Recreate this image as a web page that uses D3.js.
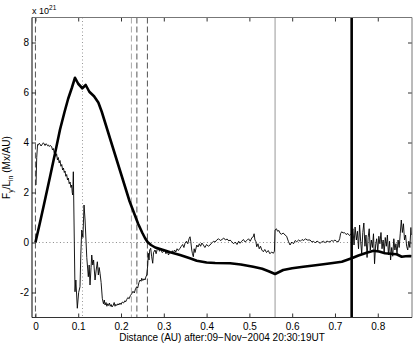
<!DOCTYPE html>
<html>
<head>
<meta charset="utf-8">
<script src="https://cdn.jsdelivr.net/npm/d3@7"></script>
<style>
  html, body { margin: 0; padding: 0; background: #fff; }
  svg { display: block; }
  text { font-family: "Liberation Sans", Arial, Helvetica, sans-serif; }
</style>
</head>
<body>
<div id="chart"></div>
<script>
// tick labels
const xTicks = [0, 0.1, 0.2, 0.3, 0.4, 0.5, 0.6, 0.7, 0.8];
const yTicks = [-2, 0, 2, 4, 6, 8];

// thick curve
const modelDist = [0, 0.010, 0.020, 0.034, 0.046, 0.0575, 0.0680, 0.0765, 0.0850, 0.0925,
  0.1000, 0.1096, 0.1175, 0.1260, 0.1370, 0.1470, 0.1550, 0.1800, 0.2000, 0.2200,
  0.2400, 0.2500, 0.2560, 0.2620, 0.2700, 0.2800, 0.2990, 0.3150, 0.3380, 0.3610,
  0.3770, 0.4000, 0.4200, 0.4550, 0.4800, 0.5090, 0.5300, 0.5450, 0.5600, 0.5790,
  0.6000, 0.6260, 0.6500, 0.6730, 0.6950, 0.7160, 0.7390, 0.7550, 0.7740, 0.7900,
  0.8030, 0.8170, 0.8300, 0.8440, 0.8560, 0.8650, 0.8750, 0.8790];
const modelVal = [0, 0.75, 1.52, 2.62, 3.58, 4.52, 5.22, 5.75, 6.18, 6.59,
  6.35, 6.17, 6.30, 6.03, 5.85, 5.60, 5.23, 3.85, 2.75, 1.65,
  0.75, 0.38, 0.18, 0.02, -0.10, -0.20, -0.30, -0.39, -0.50, -0.63,
  -0.73, -0.80, -0.82, -0.83, -0.88, -0.97, -1.05, -1.15, -1.26, -1.10,
  -1.03, -0.97, -0.92, -0.87, -0.82, -0.77, -0.63, -0.52, -0.41, -0.33,
  -0.36, -0.43, -0.45, -0.47, -0.57, -0.55, -0.54, -0.55];

// thin curve
const fluxDist = [0.0014, 0.0030, 0.0050, 0.0070, 0.0090, 0.0110, 0.0130, 0.0150, 0.0170, 0.0185,
  0.0205, 0.0225, 0.0245, 0.0264, 0.0285, 0.0305, 0.0325, 0.0345, 0.0365, 0.0380,
  0.0400, 0.0420, 0.0440, 0.0458, 0.0475, 0.0495, 0.0515, 0.0535, 0.0555, 0.0575,
  0.0595, 0.0615, 0.0635, 0.0655, 0.0675, 0.0692, 0.0710, 0.0730, 0.0750, 0.0769,
  0.0790, 0.0810, 0.0830, 0.0848, 0.0860, 0.0872, 0.0886, 0.0905, 0.0925, 0.0945,
  0.0979, 0.1010, 0.1042, 0.1060, 0.1082, 0.1110, 0.1136, 0.1160, 0.1200, 0.1236,
  0.1256, 0.1276, 0.1300, 0.1316, 0.1340, 0.1360, 0.1393, 0.1420, 0.1447, 0.1470,
  0.1490, 0.1510, 0.1535, 0.1563, 0.1590, 0.1610, 0.1627, 0.1650, 0.1670, 0.1690,
  0.1710, 0.1730, 0.1750, 0.1770, 0.1790, 0.1820, 0.1840, 0.1860, 0.1880, 0.1900,
  0.1930, 0.1950, 0.1977, 0.2000, 0.2030, 0.2060, 0.2090, 0.2110, 0.2134, 0.2160,
  0.2190, 0.2220, 0.2250, 0.2280, 0.2310, 0.2340, 0.2367, 0.2390, 0.2420, 0.2444,
  0.2470, 0.2484, 0.2510, 0.2540, 0.2561, 0.2580, 0.2601, 0.2625, 0.2638, 0.2655,
  0.2670, 0.2694, 0.2715, 0.2741, 0.2760, 0.2795, 0.2820, 0.2845, 0.2872, 0.2900,
  0.2930, 0.2960, 0.2989, 0.3020, 0.3050, 0.3080, 0.3110, 0.3140, 0.3170, 0.3200,
  0.3223, 0.3250, 0.3280, 0.3310, 0.3340, 0.3379, 0.3410, 0.3440, 0.3470, 0.3496,
  0.3530, 0.3560, 0.3590, 0.3613, 0.3630, 0.3653, 0.3670, 0.3690, 0.3710, 0.3730,
  0.3770, 0.3800, 0.3830, 0.3860, 0.3890, 0.3924, 0.3960, 0.4000, 0.4040, 0.4080,
  0.4120, 0.4160, 0.4200, 0.4237, 0.4280, 0.4320, 0.4360, 0.4400, 0.4440, 0.4480,
  0.4520, 0.4548, 0.4590, 0.4630, 0.4670, 0.4710, 0.4750, 0.4782, 0.4820, 0.4860,
  0.4900, 0.4940, 0.4980, 0.5020, 0.5060, 0.5092, 0.5110, 0.5130, 0.5150, 0.5172,
  0.5200, 0.5230, 0.5260, 0.5290, 0.5326, 0.5360, 0.5400, 0.5440, 0.5480, 0.5520,
  0.5560, 0.5585, 0.5600, 0.5630, 0.5660, 0.5690, 0.5716, 0.5750, 0.5790, 0.5833,
  0.5870, 0.5910, 0.5950, 0.5990, 0.6030, 0.6070, 0.6107, 0.6150, 0.6190, 0.6230,
  0.6270, 0.6310, 0.6350, 0.6418, 0.6460, 0.6500, 0.6540, 0.6580, 0.6620, 0.6651,
  0.6690, 0.6730, 0.6770, 0.6810, 0.6850, 0.6885, 0.6920, 0.6960, 0.7000, 0.7040,
  0.7079, 0.7110, 0.7130, 0.7158, 0.7190, 0.7220, 0.7260, 0.7300, 0.7340, 0.7370,
  0.7392, 0.7420, 0.7445, 0.7470, 0.7500, 0.7525, 0.7550, 0.7575, 0.7600, 0.7625,
  0.7650, 0.7675, 0.7700, 0.7725, 0.7750, 0.7775, 0.7800, 0.7825, 0.7850, 0.7875,
  0.7900, 0.7925, 0.7950, 0.7975, 0.8000, 0.8025, 0.8050, 0.8075, 0.8100, 0.8125,
  0.8150, 0.8175, 0.8200, 0.8225, 0.8250, 0.8275, 0.8300, 0.8325, 0.8350, 0.8375,
  0.8400, 0.8425, 0.8450, 0.8475, 0.8500, 0.8525, 0.8550, 0.8575, 0.8600, 0.8625,
  0.8650, 0.8675, 0.8700, 0.8725, 0.8750, 0.8775, 0.8790];
const fluxVal = [2.30, 3.40, 3.92, 3.90, 3.97, 3.93, 3.86, 3.90, 3.96, 3.99,
  3.94, 3.88, 3.95, 3.93, 3.87, 3.90, 3.84, 3.88, 3.86, 3.83,
  3.70, 3.76, 3.58, 3.63, 3.45, 3.55, 3.30, 3.40, 3.18, 3.28,
  3.05, 3.12, 2.90, 2.98, 2.80, 2.86, 2.65, 2.72, 2.50, 2.58,
  2.35, 2.42, 2.20, 2.30, 2.00, 1.90, 2.83, 0.50, -1.97, -1.50,
  -2.63, -2.00, -1.77, -0.50, 0.50, 0.20, 1.50, 0.90, -0.60, -1.37,
  -0.90, -1.70, -1.00, -0.50, -0.90, -0.70, -1.50, -1.10, -0.77, -1.30,
  -1.00, -1.23, -1.60, -2.23, -2.45, -2.30, -2.50, -2.40, -2.55, -2.45,
  -2.52, -2.42, -2.55, -2.48, -2.58, -2.50, -2.40, -2.55, -2.47, -2.52,
  -2.45, -2.50, -2.42, -2.48, -2.38, -2.42, -2.33, -2.37, -2.28, -2.20,
  -2.25, -2.12, -2.05, -1.95, -2.02, -1.85, -1.77, -1.82, -1.60, -1.50,
  -1.55, -1.43, -1.52, -1.45, -1.50, -1.38, -1.30, -0.90, -0.43, -0.70,
  -0.30, -0.23, -0.55, -0.83, -0.40, -0.30, -0.45, -0.28, -0.23, -0.35,
  -0.25, -0.40, -0.37, -0.30, -0.45, -0.35, -0.50, -0.38, -0.42, -0.33,
  -0.43, -0.30, -0.38, -0.25, -0.32, -0.23, -0.15, -0.08, -0.20, -0.03,
  0.05, -0.05, 0.15, 0.23, 0.05, -0.30, -0.45, -0.57, -0.25, -0.40,
  -0.10, -0.18, -0.05, -0.15, -0.02, -0.10, -0.20, -0.08, -0.15, -0.10,
  -0.02, 0.05, 0.02, 0.10, 0.15, 0.08, 0.12, 0.18, 0.10, 0.14,
  0.06, 0.10, 0.03, -0.05, 0.02, -0.08, 0.05, -0.03, 0.05, 0.12,
  0.02, 0.08, 0.15, 0.05, 0.20, 0.23, 0.35, 0.10, 0.05, -0.17,
  -0.05, -0.25, -0.15, -0.30, -0.37, -0.28, -0.40, -0.32, -0.45, -0.38,
  -0.43, -0.35, 0.50, 0.55, 0.45, 0.48, 0.37, 0.33, 0.38, 0.30,
  0.25, 0.05, -0.10, 0.02, -0.05, 0.08, 0.03, 0.10, 0.05, 0.12,
  0.08, 0.15, 0.10, 0.10, 0.02, 0.05, -0.02, 0.06, 0.01, -0.03,
  0.02, 0.05, -0.01, 0.06, 0.03, 0.03, 0.08, 0.05, 0.10, 0.04,
  0.03, 0.15, 0.35, 0.43, 0.38, 0.40, 0.32, 0.36, 0.28, 0.33,
  0.30, 0.55, -0.10, 0.62, 0.10, 0.45, -0.25, 0.70, 0.05, -0.45,
  0.40, 0.78, -0.15, 0.30, -0.60, 0.20, 0.55, -0.30, 0.10, -0.20,
  0.35, -0.85, -0.10, 0.15, -0.35, 0.25, -0.05, 0.40, -0.25, 0.10,
  -0.40, 0.20, -0.15, 0.30, -0.50, 0.05, -0.70, -0.20, -0.55, 0.15,
  -0.30, -0.05, -0.45, 0.10, -0.20, 0.35, 0.90, 0.40, 0.75, 0.10,
  0.30, -0.15, -0.30, 0.05, -0.20, 0.60, 0.30];

// vertical marker lines
const dashedMarks = [0, 0.2243, 0.2371, 0.2617];
const dottedMarks = [0.11];
const greyMarks = [0.56];
const thickMarks = [0.739];

const width = 415, height = 344;
const margin = { top: 17.5, right: 3, bottom: 26.5, left: 32 };

const svg = d3.select('#chart').append('svg')
  .attr('width', width)
  .attr('height', height);

const x = d3.scaleLinear()
  .domain([-0.008, 0.88])
  .range([margin.left, width - margin.right]);

const y = d3.scaleLinear()
  .domain([-3, 9])
  .range([height - margin.bottom, margin.top]);

const plotTop = y.range()[1], plotBottom = y.range()[0];
const plotLeft = x.range()[0], plotRight = x.range()[1];

// zero line (dotted)
svg.append('line')
  .attr('x1', x(0)).attr('x2', plotRight)
  .attr('y1', y(0)).attr('y2', y(0))
  .attr('stroke', '#888').attr('stroke-width', 1)
  .attr('stroke-dasharray', '1,2.5');

// vertical markers
svg.selectAll('.dash').data(dashedMarks)
  .enter().append('line')
  .attr('class', 'dash')
  .attr('x1', d => x(d)).attr('x2', d => x(d))
  .attr('y1', plotTop).attr('y2', plotBottom)
  .attr('stroke', (d, i) => i === 1 ? '#aaa' : '#555')
  .attr('stroke-width', 1)
  .attr('stroke-dasharray', '6,3');

svg.selectAll('.dot').data(dottedMarks)
  .enter().append('line')
  .attr('class', 'dot')
  .attr('x1', d => x(d)).attr('x2', d => x(d))
  .attr('y1', plotTop).attr('y2', plotBottom)
  .attr('stroke', '#999').attr('stroke-width', 1)
  .attr('stroke-dasharray', '1,2.5');

svg.selectAll('.grey').data(greyMarks)
  .enter().append('line')
  .attr('class', 'grey')
  .attr('x1', d => x(d)).attr('x2', d => x(d))
  .attr('y1', plotTop).attr('y2', plotBottom)
  .attr('stroke', '#999').attr('stroke-width', 1);

// thin curve
const fluxLine = d3.line()
  .x(d => x(d[0]))
  .y(d => y(d[1]));

svg.append('path')
  .datum(d3.zip(fluxDist, fluxVal))
  .attr('d', fluxLine)
  .attr('fill', 'none')
  .attr('stroke', '#000')
  .attr('stroke-width', 0.9);

// thick curve
svg.append('path')
  .datum(d3.zip(modelDist, modelVal))
  .attr('d', fluxLine)
  .attr('fill', 'none')
  .attr('stroke', '#000')
  .attr('stroke-width', 2.6)
  .attr('stroke-linejoin', 'round');

svg.selectAll('.thick').data(thickMarks)
  .enter().append('line')
  .attr('class', 'thick')
  .attr('x1', d => x(d)).attr('x2', d => x(d))
  .attr('y1', plotTop).attr('y2', plotBottom)
  .attr('stroke', '#000').attr('stroke-width', 2.6);

// axes, matlab style (ticks pointing in)
const fmtX = d => d === 0 ? '0' : d3.format('.1f')(d);

const xAxis = svg.append('g')
  .attr('transform', `translate(0,${plotBottom})`)
  .call(d3.axisBottom(x).tickValues(xTicks).tickFormat(fmtX)
    .tickSizeInner(-4).tickSizeOuter(0).tickPadding(5));

const xAxisTop = svg.append('g')
  .attr('transform', `translate(0,${plotTop})`)
  .call(d3.axisTop(x).tickValues(xTicks).tickFormat('')
    .tickSizeInner(-4).tickSizeOuter(0));

const yAxis = svg.append('g')
  .attr('transform', `translate(${plotLeft},0)`)
  .call(d3.axisLeft(y).tickValues(yTicks).tickFormat(d => String(d))
    .tickSizeInner(-4).tickSizeOuter(0).tickPadding(3));

const yAxisRight = svg.append('g')
  .attr('transform', `translate(${plotRight},0)`)
  .call(d3.axisRight(y).tickValues(yTicks).tickFormat('')
    .tickSizeInner(-4).tickSizeOuter(0));

[xAxis, xAxisTop, yAxis, yAxisRight].forEach(g => {
  g.select('.domain').remove();
  g.selectAll('.tick line').attr('stroke', '#333');
  g.selectAll('.tick text')
    .attr('fill', '#000')
    .style('font-size', '10px')
    .style('font-family', '"Liberation Sans", Arial, sans-serif');
});

// box
svg.append('line').attr('x1', plotLeft).attr('x2', plotRight).attr('y1', plotTop).attr('y2', plotTop)
  .attr('stroke', '#777');
svg.append('line').attr('x1', plotRight).attr('x2', plotRight).attr('y1', plotTop).attr('y2', plotBottom)
  .attr('stroke', '#777');
svg.append('line').attr('x1', plotLeft).attr('x2', plotRight).attr('y1', plotBottom).attr('y2', plotBottom)
  .attr('stroke', '#333');
svg.append('line').attr('x1', plotLeft).attr('x2', plotLeft).attr('y1', plotTop).attr('y2', plotBottom)
  .attr('stroke', '#000');

// exponent label
const expo = svg.append('text')
  .attr('x', plotLeft)
  .attr('y', 14)
  .style('font-size', '9px');
expo.append('tspan').text('x 10');
expo.append('tspan').attr('dy', -4).style('font-size', '6.5px').text('21');

// x label
svg.append('text')
  .attr('x', (plotLeft + plotRight) / 2)
  .attr('y', height - 3)
  .attr('text-anchor', 'middle')
  .style('font-size', '10px')
  .text('Distance (AU) after:09\u2212Nov\u22122004 20:30:19UT');

// y label
const yl = svg.append('text')
  .attr('transform', `translate(10,${(plotTop + plotBottom) / 2}) rotate(-90)`)
  .attr('text-anchor', 'middle')
  .style('font-size', '10px');
yl.append('tspan').text('F');
yl.append('tspan').attr('dy', 2.5).style('font-size', '7px').text('y');
yl.append('tspan').attr('dy', -2.5).text('/L');
yl.append('tspan').attr('dy', 2.5).style('font-size', '7px').text('in');
yl.append('tspan').attr('dy', -2.5).text(' (Mx/AU)');
</script>
</body>
</html>
